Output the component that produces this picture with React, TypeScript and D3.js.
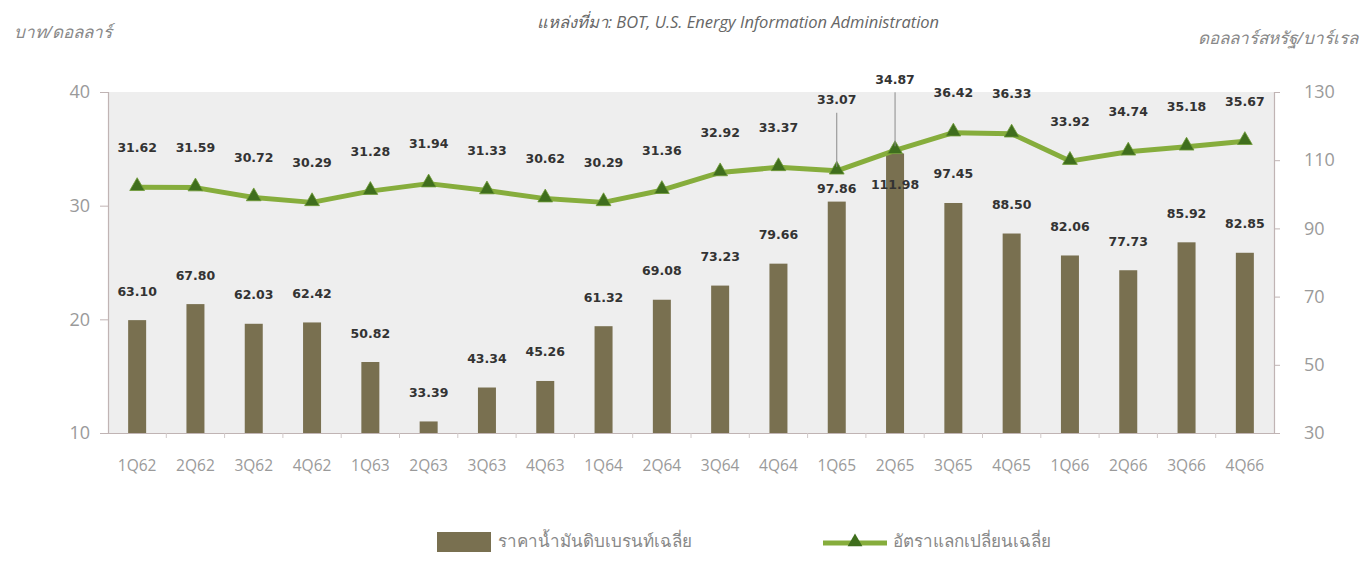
import React, { useEffect, useRef } from 'react';
import * as d3 from 'd3';

const quarters = ['1Q62', '2Q62', '3Q62', '4Q62', '1Q63', '2Q63', '3Q63', '4Q63', '1Q64', '2Q64',
  '3Q64', '4Q64', '1Q65', '2Q65', '3Q65', '4Q65', '1Q66', '2Q66', '3Q66', '4Q66'];
const brentPrice = [63.10, 67.80, 62.03, 62.42, 50.82, 33.39, 43.34, 45.26, 61.32, 69.08,
  73.23, 79.66, 97.86, 111.98, 97.45, 88.50, 82.06, 77.73, 85.92, 82.85];
const exchangeRate = [31.62, 31.59, 30.72, 30.29, 31.28, 31.94, 31.33, 30.62, 30.29, 31.36,
  32.92, 33.37, 33.07, 34.87, 36.42, 36.33, 33.92, 34.74, 35.18, 35.67];
const leftTicks = [10, 20, 30, 40];
const rightTicks = [30, 50, 70, 90, 110, 130];

const BAR = '#797050';
const LINE = '#86ad3c';
const MARK = '#3f6e1d';
const TXT = "'Open Sans', 'DejaVu Sans', sans-serif";

const App = () => {
  const ref = useRef(null);

  useEffect(() => {
    const svg = d3.select(ref.current);
    svg.selectAll('*').remove();

    const left = 108, right = 1274, top = 92, bottom = 433;

    const x = d3.scaleBand().domain(quarters).range([left, right]);
    const yL = d3.scaleLinear().domain([10, 40]).range([bottom, top]);
    const yR = d3.scaleLinear().domain([30, 130]).range([bottom, top]);

    svg.append('rect').attr('x', left).attr('y', top).attr('width', right - left)
      .attr('height', bottom - top).attr('fill', '#eeeeee');

    // axes
    const axL = svg.append('g').attr('transform', `translate(${left},0)`)
      .call(d3.axisLeft(yL).tickValues(leftTicks).tickSize(8).tickPadding(10));
    const axR = svg.append('g').attr('transform', `translate(${right},0)`)
      .call(d3.axisRight(yR).tickValues(rightTicks).tickSize(6).tickPadding(24));
    const axB = svg.append('g').attr('transform', `translate(0,${bottom})`)
      .call(d3.axisBottom(x).tickSize(0).tickPadding(27));
    [axL, axR, axB].forEach(a => {
      a.select('.domain').attr('stroke', '#c0b4b4').attr('stroke-width', 1.2);
      a.selectAll('.tick line').attr('stroke', '#c0b4b4');
      a.selectAll('text').attr('fill', '#9a9a9a').style('font-family', TXT);
    });
    axL.selectAll('text').style('font-size', '18px');
    axR.selectAll('text').style('font-size', '18px');
    axB.selectAll('text').style('font-size', '15.5px');
    // small category separators under the axis
    svg.append('g').selectAll('line').data(quarters.slice(1)).join('line')
      .attr('x1', d => x(d)).attr('x2', d => x(d))
      .attr('y1', bottom).attr('y2', bottom + 5)
      .attr('stroke', '#d0c8c8');

    const bw = 18;
    const cx = d => x(d) + x.bandwidth() / 2;

    svg.append('g').selectAll('rect').data(quarters).join('rect')
      .attr('x', d => cx(d) - bw / 2)
      .attr('y', (d, i) => yR(brentPrice[i]))
      .attr('width', bw)
      .attr('height', (d, i) => bottom - yR(brentPrice[i]))
      .attr('fill', BAR);

    const line = d3.line().x(d => d[0]).y(d => d[1]);
    const pts = quarters.map((q, i) => [cx(q), yL(exchangeRate[i])]);
    svg.append('path').attr('d', line(pts)).attr('fill', 'none')
      .attr('stroke', LINE).attr('stroke-width', 5).attr('stroke-linejoin', 'round');

    const tri = d3.symbol().type(d3.symbolTriangle).size(95);
    svg.append('g').selectAll('path').data(pts).join('path')
      .attr('d', tri()).attr('transform', d => `translate(${d[0]},${d[1] - 1})`)
      .attr('fill', MARK).attr('stroke', '#6f9a35').attr('stroke-width', 0.8);

    // labels
    const lbl = svg.append('g').style('font-family', "'DejaVu Sans', sans-serif")
      .style('font-size', '12.5px').style('font-weight', 'bold').attr('fill', '#333');
    quarters.forEach((q, i) => {
      const px = cx(q);
      const ly = yL(exchangeRate[i]);
      const by = yR(brentPrice[i]);
      const crowded = by - ly < 55;
      const lineLabelY = crowded ? ly - 70 : ly - 39;
      if (crowded) {
        svg.append('line').attr('x1', px).attr('x2', px)
          .attr('y1', lineLabelY + 12).attr('y2', ly - 4)
          .attr('stroke', '#8a8a8a').attr('stroke-width', 1);
      }
      lbl.append('text').attr('x', px).attr('y', lineLabelY)
        .attr('text-anchor', 'middle').attr('dominant-baseline', 'middle')
        .text(exchangeRate[i].toFixed(2));
      let barLabelY = crowded ? by - 12 : by - 28;
      if (crowded && barLabelY < ly + 15) barLabelY = ly + 35;
      lbl.append('text').attr('x', px).attr('y', barLabelY)
        .attr('text-anchor', 'middle').attr('dominant-baseline', 'middle')
        .text(brentPrice[i].toFixed(2));
    });

    // titles
    svg.append('text').attr('x', 14).attr('y', 38).text('บาท/ดอลลาร์')
      .attr('fill', '#888').style('font-style', 'italic').style('font-size', '17px')
      .style('font-family', TXT);
    svg.append('text').attr('x', 738).attr('y', 28).attr('text-anchor', 'middle')
      .text('แหล่งที่มา: BOT, U.S. Energy Information Administration')
      .attr('fill', '#666').style('font-style', 'italic').style('font-size', '16.5px')
      .style('font-family', TXT);
    svg.append('text').attr('x', 1358).attr('y', 44).attr('text-anchor', 'end')
      .text('ดอลลาร์สหรัฐ/บาร์เรล')
      .attr('fill', '#888').style('font-style', 'italic').style('font-size', '17px')
      .style('font-family', TXT);

    // legend
    const lg = svg.append('g').style('font-family', TXT).style('font-size', '17px');
    lg.append('rect').attr('x', 437).attr('y', 532).attr('width', 54).attr('height', 20).attr('fill', BAR);
    lg.append('text').attr('x', 498).attr('y', 542).attr('dominant-baseline', 'middle')
      .attr('fill', '#888').text('ราคาน้ำมันดิบเบรนท์เฉลี่ย');
    lg.append('line').attr('x1', 823).attr('x2', 887).attr('y1', 543).attr('y2', 543)
      .attr('stroke', LINE).attr('stroke-width', 5);
    lg.append('path').attr('d', tri()).attr('transform', 'translate(855,542)')
      .attr('fill', MARK);
    lg.append('text').attr('x', 893).attr('y', 542).attr('dominant-baseline', 'middle')
      .attr('fill', '#888').text('อัตราแลกเปลี่ยนเฉลี่ย');
  }, []);

  return (
    <svg ref={ref} width={1366} height={581}
      style={{ position: 'absolute', left: 0, top: 0, background: '#fff' }} />
  );
};

export default App;
